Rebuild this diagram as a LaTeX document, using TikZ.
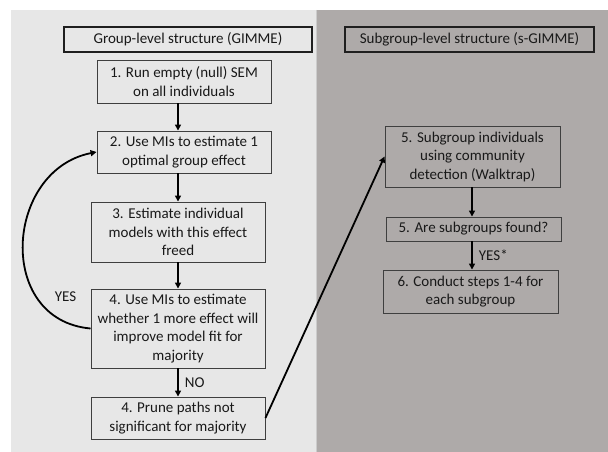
\documentclass[tikz,border=0pt]{standalone}
\usepackage{fontspec}
\setmainfont{Carlito}
\usetikzlibrary{arrows.meta}
\definecolor{panelL}{HTML}{E7E7E7}
\definecolor{panelR}{HTML}{AEAAA9}
\definecolor{edge}{HTML}{3F3F3F}
\tikzset{
  stepbox/.style={draw=edge, line width=0.9pt, align=center, inner sep=0pt,
    font=\fontsize{15}{18.5}\selectfont, text=black!90},
  titlebox/.style={draw=black!88, line width=2.6pt, align=center, inner sep=0pt,
    font=\fontsize{15}{18.5}\selectfont, text=black!90},
  arr/.style={line width=1.8pt, -{Triangle[length=6pt,width=6pt]}},
  lbl/.style={font=\fontsize{15}{18.5}\selectfont, text=black!90, inner sep=0pt}
}
\begin{document}
\begin{tikzpicture}[x=1pt, y=-1pt]
\useasboundingbox (0,0) rectangle (608,452);
\fill[white] (0,0) rectangle (608,452);
% two panels
\fill[panelL] (11,10) rectangle (316,452);
\fill[panelR] (316,10) rectangle (608,452);
\draw[black!20, line width=1pt] (316.5,10) -- (316.5,452);

% titles
\node[titlebox, minimum width=248pt, minimum height=25pt] (t1) at (188,39.5) {Group-level structure (GIMME)};
\node[titlebox, minimum width=249pt, minimum height=25pt] (t2) at (469.5,39.5) {Subgroup-level structure (s-GIMME)};

% group-level steps
\node[stepbox, minimum width=174pt, minimum height=43pt] (b1) at (184,81.5) {1. Run empty (null) SEM\\on all individuals};
\node[stepbox, minimum width=174pt, minimum height=42pt] (b2) at (184,152) {2. Use MIs to estimate 1\\optimal group effect};
\node[stepbox, minimum width=174pt, minimum height=60pt] (b3) at (178,232) {3. Estimate individual\\models with this effect\\freed};
\node[stepbox, minimum width=174pt, minimum height=79pt] (b4) at (178,328.5) {4. Use MIs to estimate\\whether 1 more effect will\\improve model fit for\\majority};
\node[stepbox, minimum width=174pt, minimum height=42pt] (b4p) at (178,418) {4. Prune paths not\\significant for majority};

% subgroup-level steps
\node[stepbox, minimum width=175pt, minimum height=61pt] (b5) at (472.5,156.5) {5. Subgroup individuals\\using community\\detection (Walktrap)};
\node[stepbox, minimum width=175pt, minimum height=24pt] (b5q) at (473.5,229) {5. Are subgroups found?};
\node[stepbox, minimum width=175pt, minimum height=43pt] (b6) at (470.5,291.5) {6. Conduct steps 1-4 for\\each subgroup};

% vertical flow
\draw[arr] (b1.south -| b3) -- (b2.north -| b3);
\draw[arr] (b2.south -| b3) -- (b3.north);
\draw[arr] (b3.south) -- (b4.north);
\draw[arr] (b4.south) -- node[lbl, right=6pt] {NO} (b4p.north);
\draw[arr] (b5.south -| 472,0) -- (b5q.north -| 472,0);
\draw[arr] (b5q.south -| 472,0) -- node[lbl, right=6pt] {YES*} (b6.north -| 472,0);

% loop back and hand-off
\draw[arr] (b4.west) .. controls (-5,320) and (5,170) .. (b2.west);
\node[lbl] (yes) at (65.5,297) {YES};
\draw[arr] (b4p.east) -- (b5.west);
\end{tikzpicture}
\end{document}
